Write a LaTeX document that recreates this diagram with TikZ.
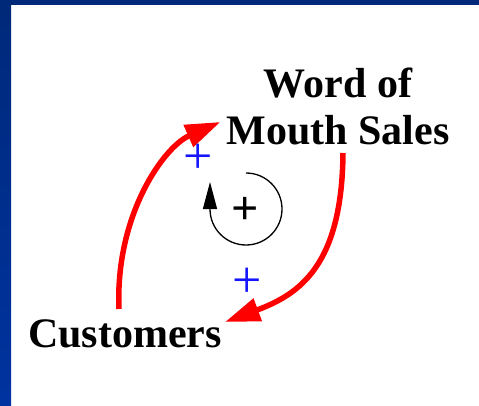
\documentclass[tikz,border=0pt]{standalone}
\usepackage{fontspec}
\setmainfont{Liberation Serif}
\usetikzlibrary{arrows.meta,calc}
\definecolor{framebluetop}{RGB}{0,41,122}
\definecolor{framebluebot}{RGB}{0,51,160}
\definecolor{signblue}{RGB}{20,20,255}
\definecolor{arrowred}{RGB}{255,0,0}
\tikzset{
  varlabel/.style={inner sep=0pt, font=\bfseries\fontsize{42}{47}\selectfont, align=center},
  redlink/.style={draw=arrowred, line width=5.5pt, -{Triangle[length=35pt,width=23pt]}},
  polsign/.style={inner sep=0pt, text=signblue, font=\fontsize{52}{54}\selectfont},
  loopsign/.style={inner sep=0pt, font=\fontsize{48}{50}\selectfont\bfseries},
  looparrow/.style={draw=black, line width=1.3pt, -{Triangle[length=27pt,width=14pt]}}
}
\begin{document}
\begin{tikzpicture}[x=1pt,y=1pt]
  \useasboundingbox (0,0) rectangle (479,405);
  \fill[white] (0,0) rectangle (479,405);
  \fill[framebluetop] (0,400) rectangle (479,405);
  \shade[top color=framebluetop, bottom color=framebluebot] (0,0) rectangle (11,400);

  \node[varlabel, anchor=south] (wom) at (338,260) {Word of\\Mouth Sales};
  \node[varlabel, anchor=base] (cust) at (125,58) {Customers};

  \draw[redlink] ($(cust.north)+(-6,10)$) .. controls +(-4,93) and +(-57,-25) .. ($(wom.south west)+(-6,23)$);
  \draw[redlink] ($(wom.south)+(5,-8)$) .. controls +(-1,-112) and +(75,28) .. ($(cust.north east)+(3,-3)$);

  \node[polsign] (s1) at (198,246) {+};
  \node[polsign] (s2) at (247,122) {+};

  \node[loopsign] (loop) at (245,194) {+};
  \draw[looparrow] ($(loop.center)+(1,38)$) arc[start angle=90, end angle=-180, radius=36] -- ++(0,27);
\end{tikzpicture}
\end{document}
